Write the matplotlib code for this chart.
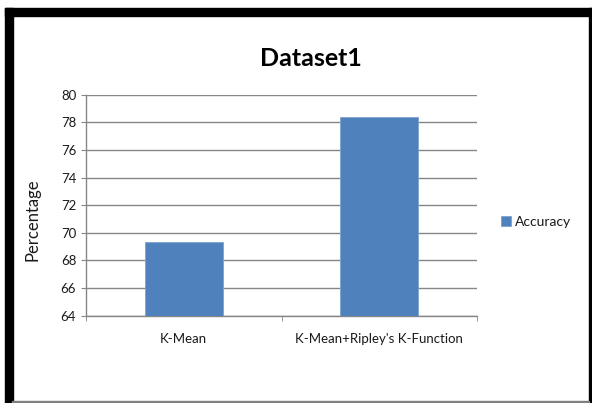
import matplotlib
matplotlib.use("Agg")
import matplotlib.pyplot as plt
from matplotlib.patches import Rectangle

categories = ["K-Mean", "K-Mean+Ripley's K-Function"]
accuracy = [69.3, 78.4]
yticks = [64, 66, 68, 70, 72, 74, 76, 78, 80]
series_name = "Accuracy"
title = "Dataset1"
ylabel = "Percentage"

W, H = 592, 403
plt.rcParams['font.family'] = ['Lato', 'DejaVu Sans']
fig = plt.figure(figsize=(W / 100, H / 100), dpi=100)

bar_color = "#4F81BD"
grid_color = "#868686"
text_color = "#1a1a1a"

# axes placement (pixel-based)
x0, x1 = 86, 477
y_top, y_bot = 94.7, 315.7
ax = fig.add_axes([x0 / W, 1 - y_bot / H, (x1 - x0) / W, (y_bot - y_top) / H])

xpos = list(range(len(categories)))
bars = ax.bar(xpos, accuracy, width=0.4, color=bar_color, edgecolor="#7FA2CF",
              linewidth=0.6, label=series_name, zorder=3)
ax.set_xlim(-0.5, len(categories) - 0.5)
ax.set_ylim(yticks[0], yticks[-1])
ax.set_yticks(yticks)
ax.set_yticklabels([str(t) for t in yticks])
ax.yaxis.grid(True, color=grid_color, linewidth=1.0, zorder=0)
ax.set_axisbelow(True)

for s in ["top", "right"]:
    ax.spines[s].set_visible(False)
for s in ["left", "bottom"]:
    ax.spines[s].set_color(grid_color)
    ax.spines[s].set_linewidth(1.0)

ax.set_xticks(xpos)
ax.set_xticklabels(categories)
ax.set_xticks([-0.5, 0.5, 1.5], minor=True)
ax.tick_params(axis="x", which="major", length=0, pad=12.5, labelsize=9.5, labelcolor=text_color)
ax.tick_params(axis="x", which="minor", length=3.5, direction="out", color=grid_color)
ax.tick_params(axis="y", which="major", length=3.6, direction="out", color=grid_color,
               pad=3.5, labelsize=9.5, labelcolor=text_color)

fig.text(311 / W, 1 - 58 / H, title, ha="center", va="center", fontsize=18,
         fontweight="bold", color="black")
fig.text(33 / W, 1 - 220 / H, ylabel, ha="center", va="center", rotation=90,
         fontsize=12, color=text_color)

ax.legend(loc="center left", bbox_to_anchor=(501 / W, 1 - 222 / H),
          bbox_transform=fig.transFigure, frameon=False, fontsize=10,
          handlelength=0.7, handleheight=0.7, handletextpad=0.3,
          borderpad=0, borderaxespad=0, labelcolor=text_color)

# outer frame
fig.patches.append(Rectangle((5 / W, 1 - 16 / H), (592 - 5) / W, 8 / H,
                             transform=fig.transFigure, color="black", zorder=10))
fig.patches.append(Rectangle((5 / W, 0), 7.7 / W, 1 - 8 / H,
                             transform=fig.transFigure, color="black", zorder=10))
fig.patches.append(Rectangle((589 / W, 0), 3 / W, 1 - 8 / H,
                             transform=fig.transFigure, color="black", zorder=10))
fig.patches.append(Rectangle((12 / W, 0), 577 / W, 1.6 / H,
                             transform=fig.transFigure, color="#808080", zorder=10))

fig.savefig("out.png", dpi=100)
